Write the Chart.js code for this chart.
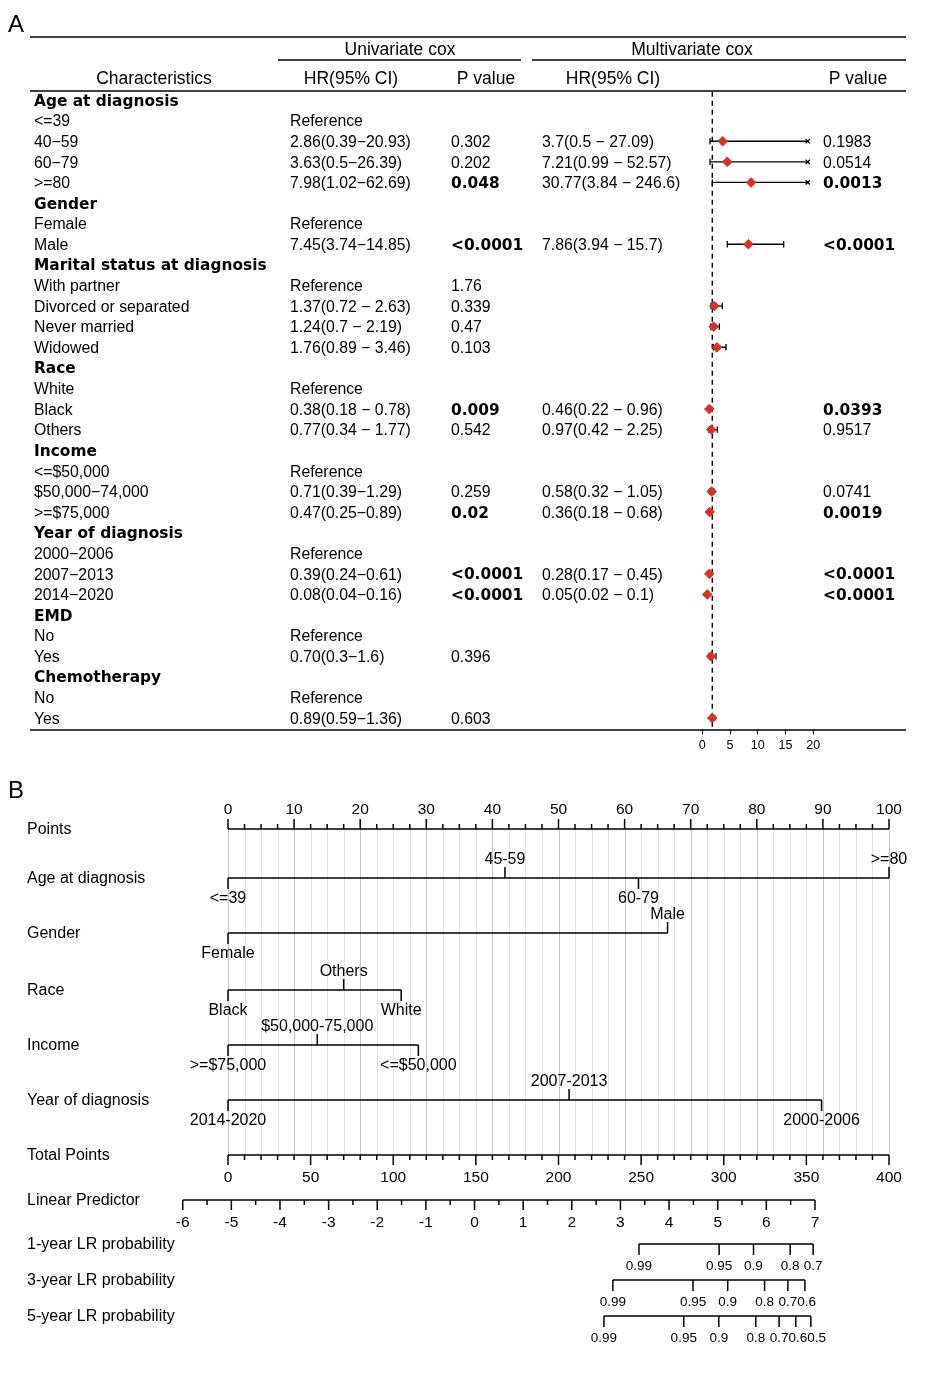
<!DOCTYPE html>
<html>
<head>
<meta charset="utf-8">
<script src="https://cdn.jsdelivr.net/npm/chart.js@4.4.1/dist/chart.umd.min.js"></script>
<style>
  html, body { margin: 0; padding: 0; background: #fff; }
  #wrap { position: relative; width: 930px; height: 1376px; }
  canvas { position: absolute; left: 0; }
  #forest { top: 0; }
  #nomo { top: 770px; }
</style>
</head>
<body>
<div id="wrap">
  <canvas id="forest" width="930" height="770"></canvas>
  <canvas id="nomo" width="930" height="606"></canvas>
</div>
<script>
const SANS = '"Liberation Sans", Arial, Helvetica, sans-serif';
const BOLD = '"DejaVu Sans", Verdana, sans-serif';
Chart.defaults.font.family = SANS;
Chart.defaults.color = '#000';

// ---------- panel A : cox table + forest ----------
const rowLabels = [
  'Age at diagnosis', '<=39', '40\u221259', '60\u221279', '>=80',
  'Gender', 'Female', 'Male',
  'Marital status at diagnosis', 'With partner', 'Divorced or separated', 'Never married', 'Widowed',
  'Race', 'White', 'Black', 'Others',
  'Income', '<=$50,000', '$50,000\u221274,000', '>=$75,000',
  'Year of diagnosis', '2000\u22122006', '2007\u22122013', '2014\u22122020',
  'EMD', 'No', 'Yes',
  'Chemotherapy', 'No', 'Yes'
];
const groupRows = [0, 5, 8, 13, 17, 21, 25, 28];

const uniHR = [
  '', 'Reference', '2.86(0.39\u221220.93)', '3.63(0.5\u221226.39)', '7.98(1.02\u221262.69)',
  '', 'Reference', '7.45(3.74\u221214.85)',
  '', 'Reference', '1.37(0.72 \u2212 2.63)', '1.24(0.7 \u2212 2.19)', '1.76(0.89 \u2212 3.46)',
  '', 'Reference', '0.38(0.18 \u2212 0.78)', '0.77(0.34 \u2212 1.77)',
  '', 'Reference', '0.71(0.39\u22121.29)', '0.47(0.25\u22120.89)',
  '', 'Reference', '0.39(0.24\u22120.61)', '0.08(0.04\u22120.16)',
  '', 'Reference', '0.70(0.3\u22121.6)',
  '', 'Reference', '0.89(0.59\u22121.36)'
];
const uniP = [
  '', '', '0.302', '0.202', '0.048',
  '', '', '<0.0001',
  '', '1.76', '0.339', '0.47', '0.103',
  '', '', '0.009', '0.542',
  '', '', '0.259', '0.02',
  '', '', '<0.0001', '<0.0001',
  '', '', '0.396',
  '', '', '0.603'
];
const multiHR = [
  '', '', '3.7(0.5 \u2212 27.09)', '7.21(0.99 \u2212 52.57)', '30.77(3.84 \u2212 246.6)',
  '', '', '7.86(3.94 \u2212 15.7)',
  '', '', '', '', '',
  '', '', '0.46(0.22 \u2212 0.96)', '0.97(0.42 \u2212 2.25)',
  '', '', '0.58(0.32 \u2212 1.05)', '0.36(0.18 \u2212 0.68)',
  '', '', '0.28(0.17 \u2212 0.45)', '0.05(0.02 \u2212 0.1)',
  '', '', '',
  '', '', ''
];
const multiP = [
  '', '', '0.1983', '0.0514', '0.0013',
  '', '', '<0.0001',
  '', '', '', '', '',
  '', '', '0.0393', '0.9517',
  '', '', '0.0741', '0.0019',
  '', '', '<0.0001', '<0.0001',
  '', '', '',
  '', '', ''
];

// forest marks as they sit on the plot's own axis (0-20)
const hrMark = [null, null, 3.67, 4.5, 8.78, null, null, 8.29, null, null, 2.17, 2.05, 2.65,
  null, null, 1.26, 1.62, null, null, 1.69, 1.33, null, null, 1.26, 0.9, null, null, 1.57, null, null, 1.8];
const ciLow = [null, null, 1.39, 1.39, 1.8, null, null, 4.5, null, null, 1.57, 1.5, 1.98,
  null, null, 1.1, 1.2, null, null, 1.3, 1.1, null, null, 1.1, 0.8, null, null, 1.2, null, null, 1.5];
const ciHigh = [null, null, 19, 19, 19, null, null, 14.66, null, null, 3.6, 3.07, 4.27,
  null, null, 1.5, 2.7, null, null, 2.1, 1.7, null, null, 1.5, 1.1, null, null, 2.47, null, null, 2.2];
const clipAt = 19;
const refLine = 1.8;
const forestTicks = [0, 5, 10, 15, 20];

const RED = '#d5322a';
const TY = 1.5; // canvas 'middle' baseline sits a little high for these fonts
const isSig = p => parseFloat(p.replace('<', '')) < 0.05;

const markRows = hrMark.map((v, i) => (v == null ? -1 : i)).filter(i => i >= 0);
const ciData = [];
const capData = [];
const arrowData = [];
markRows.forEach(i => {
  ciData.push({ x: ciLow[i], y: i }, { x: ciHigh[i], y: i }, { x: null, y: null });
  capData.push({ x: ciLow[i], y: i });
  if (ciHigh[i] >= clipAt) arrowData.push({ x: ciHigh[i], y: i });
  else capData.push({ x: ciHigh[i], y: i });
});

function hline(ctx, x1, x2, y, w) {
  ctx.lineWidth = w;
  ctx.beginPath(); ctx.moveTo(x1, y); ctx.lineTo(x2, y); ctx.stroke();
}
function txt(ctx, s, x, y) { ctx.fillText(s, x, y + TY); }

const tablePlugin = {
  id: 'coxTable',
  afterDraw(chart) {
    const ctx = chart.ctx;
    const y = chart.scales.y;
    ctx.save();
    ctx.fillStyle = '#000';
    ctx.strokeStyle = '#000';
    hline(ctx, 30, 906, 37, 1.5);
    hline(ctx, 278, 521, 60, 1.5);
    hline(ctx, 532, 906, 60, 1.5);
    hline(ctx, 30, 906, 91, 1.5);
    hline(ctx, 30, 906, 730, 1.5);

    ctx.textBaseline = 'middle';
    ctx.textAlign = 'left';
    ctx.font = '24px ' + SANS;
    txt(ctx, 'A', 8, 24);

    ctx.textAlign = 'center';
    ctx.font = '17.5px ' + SANS;
    txt(ctx, 'Univariate cox', 400, 49);
    txt(ctx, 'Multivariate cox', 692, 49);
    txt(ctx, 'Characteristics', 154, 78);
    txt(ctx, 'HR(95% CI)', 351, 78);
    txt(ctx, 'P value', 486, 78);
    txt(ctx, 'HR(95% CI)', 613, 78);
    txt(ctx, 'P value', 858, 78);

    const reg = '15.8px ' + SANS;
    const bold = 'bold 15.4px ' + BOLD;
    ctx.textAlign = 'left';
    rowLabels.forEach((lab, i) => {
      const py = y.getPixelForValue(i);
      ctx.font = groupRows.includes(i) ? bold : reg;
      txt(ctx, lab, 34, py);
      ctx.font = reg;
      if (uniHR[i]) txt(ctx, uniHR[i], 290, py);
      if (multiHR[i]) txt(ctx, multiHR[i], 542, py);
      if (uniP[i]) { ctx.font = isSig(uniP[i]) ? bold : reg; txt(ctx, uniP[i], 451, py); }
      if (multiP[i]) { ctx.font = isSig(multiP[i]) ? bold : reg; txt(ctx, multiP[i], 823, py); }
    });
    ctx.restore();
  }
};

new Chart(document.getElementById('forest'), {
  type: 'scatter',
  data: {
    datasets: [
      { data: markRows.map(i => ({ x: hrMark[i], y: i })), pointStyle: 'rectRot', pointRadius: 4.8,
        backgroundColor: RED, borderColor: RED, borderWidth: 1, order: 0 },
      { data: capData, pointStyle: 'line', rotation: 90, pointRadius: 3.2,
        borderColor: '#000', borderWidth: 1.3, order: 1 },
      { data: arrowData, pointStyle: 'crossRot', pointRadius: 3,
        borderColor: '#000', borderWidth: 1.3, order: 1 },
      { data: ciData, showLine: true, spanGaps: false, pointRadius: 0,
        borderColor: '#000', borderWidth: 1.3, order: 2 },
      { data: [{ x: refLine, y: -0.4 }, { x: refLine, y: 30.6 }], showLine: true, pointRadius: 0,
        borderColor: '#000', borderWidth: 1.4, borderDash: [5, 4], order: 3 }
    ]
  },
  options: {
    responsive: false,
    animation: false,
    events: [],
    layout: { padding: { left: 691.2, right: 94.5, top: 91.8, bottom: 0 } },
    plugins: { legend: { display: false }, tooltip: { enabled: false } },
    scales: {
      x: {
        type: 'linear', min: -2, max: 24,
        afterBuildTicks: s => { s.ticks = forestTicks.map(v => ({ value: v })); },
        afterFit: s => { s.height = 39.6; },
        border: { display: false },
        grid: { drawOnChartArea: false, drawTicks: true, tickLength: 4, color: '#000', lineWidth: 1 },
        ticks: { font: { size: 12.5 }, color: '#000', padding: 4, maxRotation: 0 }
      },
      y: { type: 'linear', min: -0.4, max: 30.6, reverse: true, display: false }
    }
  },
  plugins: [tablePlugin]
});

// ---------- panel B : nomogram ----------
const nomoNames = ['Points', 'Age at diagnosis', 'Gender', 'Race', 'Income', 'Year of diagnosis',
  'Total Points', 'Linear Predictor', '1-year LR probability', '3-year LR probability', '5-year LR probability'];

const pointTicks = [0, 10, 20, 30, 40, 50, 60, 70, 80, 90, 100];
const pointMinor = 2.5;
const ageLevels = ['<=39', '45-59', '60-79', '>=80'];
const agePoints = [0, 41.9, 62.1, 100];
const genderLevels = ['Female', 'Male'];
const genderPoints = [0, 66.5];
const raceLevels = ['Black', 'Others', 'White'];
const racePoints = [0, 17.5, 26.2];
const incomeLevels = ['>=$75,000', '$50,000-75,000', '<=$50,000'];
const incomePoints = [0, 13.5, 28.8];
const yearLevels = ['2014-2020', '2007-2013', '2000-2006'];
const yearPoints = [0, 51.6, 89.8];

const totalTicks = [0, 50, 100, 150, 200, 250, 300, 350, 400];
const totalMinor = 10;
const totalPerPoint = 4;
const lpTicks = [-6, -5, -4, -3, -2, -1, 0, 1, 2, 3, 4, 5, 6, 7];
const lpMinor = 0.5;
const lpAnchor = [-6, 7];
const lpAnchorTotal = [-27.4, 355.2];

const prob1Labels = ['0.99', '0.95', '0.9', '0.8', '0.7'];
const prob1Total = [248.7, 297.2, 318.0, 340.2, 354.1];
const prob3Labels = ['0.99', '0.95', '0.9', '0.8', '0.7', '0.6'];
const prob3Total = [232.9, 281.4, 302.4, 324.7, 338.8, 349.1];
const prob5Labels = ['0.99', '0.95', '0.9', '0.8', '0.7', '0.6', '0.5'];
const prob5Total = [227.5, 275.8, 297.0, 319.4, 333.5, 343.6, 352.7];

// layout: baseline of each nomogram row inside the canvas
const nomoRowY = [59, 108, 163, 220, 275, 330, 385, 430, 474, 510, 546];

const lpToTotal = v => lpAnchorTotal[0] + (v - lpAnchor[0]) * (lpAnchorTotal[1] - lpAnchorTotal[0]) / (lpAnchor[1] - lpAnchor[0]);
const totToPts = t => t / totalPerPoint;

const varRows = [
  [ageLevels, agePoints], [genderLevels, genderPoints], [raceLevels, racePoints],
  [incomeLevels, incomePoints], [yearLevels, yearPoints]
];
const probRows = [[prob1Labels, prob1Total], [prob3Labels, prob3Total], [prob5Labels, prob5Total]];

const segs = [];
function addSeg(a, b, row) {
  segs.push({ x: a, y: nomoRowY[row] }, { x: b, y: nomoRowY[row] }, { x: null, y: null });
}
addSeg(pointTicks[0], pointTicks[pointTicks.length - 1], 0);
varRows.forEach(([, pts], k) => addSeg(Math.min(...pts), Math.max(...pts), k + 1));
addSeg(totToPts(totalTicks[0]), totToPts(totalTicks[totalTicks.length - 1]), 6);
addSeg(totToPts(lpToTotal(lpTicks[0])), totToPts(lpToTotal(lpTicks[lpTicks.length - 1])), 7);
probRows.forEach(([, tot], k) => addSeg(totToPts(Math.min(...tot)), totToPts(Math.max(...tot)), k + 8));

function vtick(ctx, px, py, len) {
  ctx.beginPath(); ctx.moveTo(px, py); ctx.lineTo(px, py + len); ctx.stroke();
}

const nomoPlugin = {
  id: 'nomogram',
  beforeDatasetsDraw(chart) {
    const { ctx, scales: { x, y } } = chart;
    const top = y.getPixelForValue(nomoRowY[0]);
    const bot = y.getPixelForValue(nomoRowY[6]);
    ctx.save();
    ctx.lineWidth = 1;
    for (let v = pointTicks[0]; v <= pointTicks[pointTicks.length - 1] + 1e-9; v += pointMinor) {
      const px = Math.round(x.getPixelForValue(v)) + 0.5;
      ctx.strokeStyle = Math.abs(v % 10) < 1e-6 ? '#c4c4c4' : '#e4e4e4';
      ctx.beginPath(); ctx.moveTo(px, top); ctx.lineTo(px, bot); ctx.stroke();
    }
    ctx.restore();
  },
  afterDatasetsDraw(chart) {
    const { ctx, scales: { x, y } } = chart;
    const row = r => y.getPixelForValue(nomoRowY[r]);
    ctx.save();
    ctx.fillStyle = '#000';
    ctx.strokeStyle = '#000';
    ctx.lineWidth = 1.5;
    ctx.textBaseline = 'middle';

    ctx.textAlign = 'left';
    ctx.font = '24px ' + SANS;
    txt(ctx, 'B', 8, 20);
    ctx.font = '16px ' + SANS;
    nomoNames.forEach((n, r) => txt(ctx, n, 27, row(r) - 1));

    ctx.textAlign = 'center';
    // Points axis, ticks upward
    const p0 = row(0);
    for (let v = pointTicks[0]; v <= pointTicks[pointTicks.length - 1] + 1e-9; v += pointMinor) {
      vtick(ctx, x.getPixelForValue(v), p0, pointTicks.includes(v) ? -10 : -5);
    }
    ctx.font = '15.5px ' + SANS;
    pointTicks.forEach(v => txt(ctx, String(v), x.getPixelForValue(v), p0 - 21));

    // predictors: labels alternate below / above in order of points
    ctx.font = '16px ' + SANS;
    varRows.forEach(([levels, pts], k) => {
      const py = row(k + 1);
      const order = pts.map((p, i) => i).sort((a, b) => pts[a] - pts[b]);
      order.forEach((i, rank) => {
        const px = x.getPixelForValue(pts[i]);
        const up = rank % 2 === 1;
        vtick(ctx, px, py, up ? -11 : 11);
        txt(ctx, levels[i], px, up ? py - 19.5 : py + 19.5);
      });
    });

    // Total points
    const t0 = row(6);
    for (let t = totalTicks[0]; t <= totalTicks[totalTicks.length - 1] + 1e-9; t += totalMinor) {
      vtick(ctx, x.getPixelForValue(totToPts(t)), t0, totalTicks.includes(t) ? 10 : 5);
    }
    ctx.font = '15.5px ' + SANS;
    totalTicks.forEach(t => txt(ctx, String(t), x.getPixelForValue(totToPts(t)), t0 + 21));

    // Linear predictor
    const l0 = row(7);
    for (let v = lpTicks[0]; v <= lpTicks[lpTicks.length - 1] + 1e-9; v += lpMinor) {
      vtick(ctx, x.getPixelForValue(totToPts(lpToTotal(v))), l0, lpTicks.includes(v) ? 10 : 5);
    }
    lpTicks.forEach(v => txt(ctx, String(v), x.getPixelForValue(totToPts(lpToTotal(v))), l0 + 21));

    // probability scales, crowded labels pushed right so they just touch
    ctx.font = '13.5px ' + SANS;
    probRows.forEach(([labels, tot], k) => {
      const py = row(k + 8);
      let prevRight = -Infinity;
      tot.forEach((t, i) => {
        const px = x.getPixelForValue(totToPts(t));
        vtick(ctx, px, py, 11);
        const w = ctx.measureText(labels[i]).width;
        const cx = Math.max(px, prevRight + w / 2);
        txt(ctx, labels[i], cx, py + 21);
        prevRight = cx + w / 2;
      });
    });
    ctx.restore();
  }
};

new Chart(document.getElementById('nomo'), {
  type: 'scatter',
  data: {
    datasets: [
      { data: segs, showLine: true, spanGaps: false, pointRadius: 0, borderColor: '#000', borderWidth: 1.6 }
    ]
  },
  options: {
    responsive: false,
    animation: false,
    events: [],
    layout: { padding: { left: 175.12, right: 14.56, top: 0, bottom: 0 } },
    plugins: { legend: { display: false }, tooltip: { enabled: false } },
    scales: {
      x: { type: 'linear', min: -8, max: 104, display: false },
      y: { type: 'linear', min: 0, max: 606, reverse: true, display: false }
    }
  },
  plugins: [nomoPlugin]
});
</script>
</body>
</html>
